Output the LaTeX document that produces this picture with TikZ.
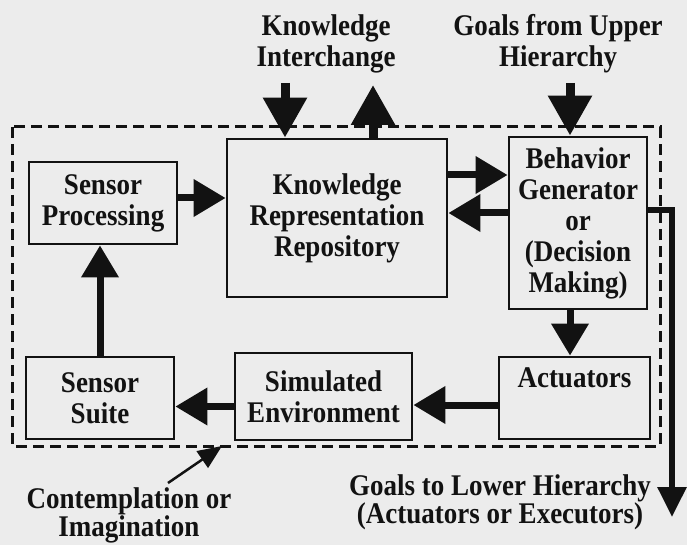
\documentclass[tikz,border=0pt]{standalone}
\usepackage{fontspec}
\setmainfont{Liberation Serif}[FakeStretch=0.9]
\usetikzlibrary{arrows.meta}
\definecolor{paper}{RGB}{236,236,236}
\definecolor{ink}{RGB}{18,18,18}

\begin{document}
\begin{tikzpicture}[x=1pt,y=-1pt,
  box/.style={draw=ink, line width=2.8pt, align=center, inner sep=0pt, text=ink,
    font=\bfseries\fontsize{30}{31}\selectfont},
  lbl/.style={align=center, inner sep=0pt, text=ink, font=\bfseries\fontsize{30}{31}\selectfont},
  lbllow/.style={lbl, font=\bfseries\fontsize{30}{28}\selectfont},
  frame/.style={draw=ink, line width=3pt, dash pattern=on 11pt off 6pt},
  fat/.style={draw=ink, line width=7pt, -{Triangle[length=32pt,width=36pt]}},
  big/.style={draw=ink, line width=9pt, -{Triangle[length=40pt,width=42pt]}},
  outlet/.style={draw=ink, line width=6pt, line join=miter, -{Triangle[length=30pt,width=28pt]}},
  pointer/.style={draw=ink, line width=2.5pt, -{Triangle[length=24pt,width=20pt]}}]
  % page and background
  \useasboundingbox (0,0) rectangle (687,545);
  \fill[paper] (0,0) rectangle (687,545);
  \draw[frame] (12,127) rectangle (660,446);
  % blocks of the loop
  \foreach \nm/\cx/\cy/\w/\h/\txt in {
    sp/103/203/148/82/{Sensor\\Processing},
    kr/337/218/220/158/{Knowledge\\Representation\\Repository},
    bg/578/223/138/172/{Behavior\\Generator\\or\\(Decision\\Making)},
    act/574.5/398/151/82/{Actuators\\\strut},
    se/323.5/396.5/177/87/{Simulated\\Environment},
    ss/100/398/148/82/{Sensor\\Suite}}{
    \node[box, minimum width=\w pt, minimum height=\h pt] (\nm) at (\cx,\cy) {\txt};
  }
  % outside labels
  \node[lbl] (kx) at (326,44) {Knowledge\\Interchange};
  \node[lbl] (gu) at (558,44) {Goals from Upper\\Hierarchy};
  \node[lbllow] (gl) at (500,502) {Goals to Lower Hierarchy\\(Actuators or Executors)};
  \node[lbllow] (ci) at (129,515) {Contemplation or\\Imagination};
  % exchanges with other levels
  \coordinate (kin) at (285,83);
  \coordinate (kout) at (373,85);
  \coordinate (gin) at (570,83);
  \draw[big] (kin) -- (kin |- kr.north);
  \draw[big] (kout |- kr.north) -- (kout);
  \draw[big] (gin) -- (gin |- bg.north);
  % loop connectors
  \draw[fat] ([yshift=5pt]sp.east) -- ([yshift=5pt]sp.east -| kr.west);
  \draw[fat] ([yshift=43pt]kr.east) -- ([yshift=43pt]kr.east -| bg.west);
  \draw[fat] ([yshift=10pt]bg.west) -- ([yshift=10pt]bg.west -| kr.east);
  \draw[fat] ([xshift=-8pt]bg.south) -- ([xshift=-8pt]bg.south |- act.north);
  \draw[fat] ([yshift=-7pt]act.west) -- ([yshift=-7pt]act.west -| se.east);
  \draw[fat] ([yshift=-10pt]se.west) -- ([yshift=-10pt]se.west -| ss.east);
  \draw[fat] (ss.north) -- (ss.north |- sp.south);
  % goals down to lower level
  \coordinate (low) at (672,517);
  \draw[outlet] ([yshift=13pt]bg.east) -| (low);
  % pointer to dashed frame
  \coordinate (ptail) at (168,483);
  \coordinate (ptip) at (222,446);
  \draw[pointer] (ptail) -- (ptip);
\end{tikzpicture}
\end{document}
